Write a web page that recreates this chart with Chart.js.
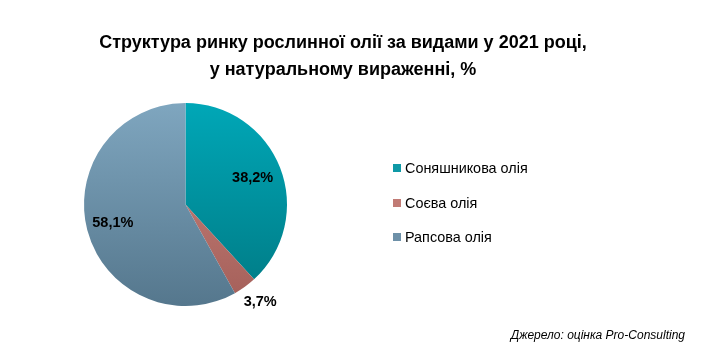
<!DOCTYPE html>
<html>
<head>
<meta charset="utf-8">
<script src="https://cdn.jsdelivr.net/npm/chart.js@4.4.0/dist/chart.umd.min.js"></script>
<style>
  html, body { margin: 0; padding: 0; background: #fff; }
  body { width: 703px; height: 359px; position: relative; overflow: hidden;
         font-family: "Liberation Sans", Arial, sans-serif; color: #000; }
  #chart { position: absolute; left: 0; top: 0; }
  .title { position: absolute; left: 0; width: 686px; text-align: center;
           font-weight: bold; font-size: 18px; white-space: nowrap; }
  .legend { position: absolute; left: 393px; font-size: 14.4px; white-space: nowrap; }
  .legend span.box { display: inline-block; width: 8px; height: 8px; margin-right: 4px;
                     vertical-align: 1px; }
  .source { position: absolute; right: 18px; top: 328px; font-size: 12px; font-style: italic; }
</style>
</head>
<body>
<canvas id="chart" width="703" height="359"></canvas>
<div class="title" style="top: 32px;">Структура ринку рослинної олії за видами у 2021 році,</div>
<div class="title" style="top: 59px;">у натуральному вираженні, %</div>
<div id="legend"></div>
<div class="source">Джерело: оцінка Pro-Consulting</div>
<script>
// data
const categories = ["Соняшникова олія", "Соєва олія", "Рапсова олія"];
const shares = [38.2, 3.7, 58.1];
const valueLabels = ["38,2%", "3,7%", "58,1%"];

// styles
const topColors = ["#00a7b7", "#cc8780", "#7fa6bf"];
const bottomColors = ["#007983", "#a45f59", "#55778d"];
const legendColors = ["#0e99a6", "#c17b75", "#6d90a8"];
const labelDist = [0.71, 1.19, 0.74];
const labelShiftX = [0, 4, 0];
const legendTops = [160, 195, 229];

const legendEl = document.getElementById("legend");
categories.forEach((name, i) => {
  const row = document.createElement("div");
  row.className = "legend";
  row.style.top = legendTops[i] + "px";
  row.innerHTML = '<span class="box" style="background:' + legendColors[i] + '"></span>' + name;
  legendEl.appendChild(row);
});

const sliceLabels = {
  id: "sliceLabels",
  afterDatasetsDraw(chart) {
    const { ctx } = chart;
    const meta = chart.getDatasetMeta(0);
    ctx.save();
    ctx.font = "bold 14.5px 'Liberation Sans', Arial, sans-serif";
    ctx.fillStyle = "#000";
    ctx.textAlign = "center";
    ctx.textBaseline = "middle";
    meta.data.forEach((arc, i) => {
      const { x, y, startAngle, endAngle, outerRadius } = arc.getProps(
        ["x", "y", "startAngle", "endAngle", "outerRadius"], true);
      const mid = (startAngle + endAngle) / 2;
      const r = outerRadius * labelDist[i];
      ctx.fillText(valueLabels[i], x + Math.cos(mid) * r + labelShiftX[i], y + Math.sin(mid) * r);
    });
    ctx.restore();
  },
};

new Chart(document.getElementById("chart"), {
  type: "pie",
  data: {
    labels: categories,
    datasets: [
      {
        data: shares,
        borderWidth: 0,
        backgroundColor: (c) => {
          const area = c.chart.chartArea;
          if (!area) return topColors[c.dataIndex];
          const g = c.chart.ctx.createLinearGradient(0, area.top, 0, area.bottom);
          g.addColorStop(0, topColors[c.dataIndex]);
          g.addColorStop(1, bottomColors[c.dataIndex]);
          return g;
        },
      },
    ],
  },
  options: {
    responsive: false,
    animation: false,
    layout: { padding: { left: 83, right: 415, top: 103, bottom: 53 } },
    plugins: { legend: { display: false }, tooltip: { enabled: false } },
  },
  plugins: [sliceLabels],
});
</script>
</body>
</html>
